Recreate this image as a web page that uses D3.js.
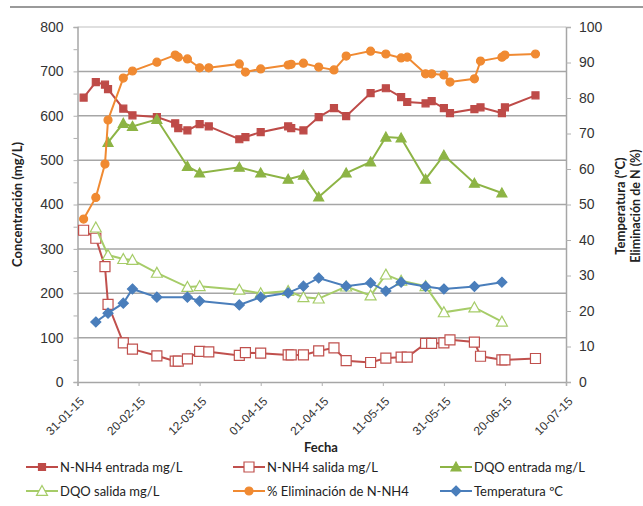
<!DOCTYPE html>
<html><head><meta charset="utf-8">
<script src="https://cdn.jsdelivr.net/npm/d3@7"></script>
<style>
html,body{margin:0;padding:0;background:#fff;}
svg{display:block;font-family:Lato,"Open Sans",sans-serif;}
</style></head>
<body><svg id="c" width="643" height="506"></svg>
<script>
const dates = ["02-02-15","06-02-15","09-02-15","10-02-15","15-02-15","18-02-15","26-02-15","04-03-15","05-03-15","08-03-15","12-03-15","15-03-15","25-03-15","27-03-15","01-04-15","10-04-15","11-04-15","15-04-15","20-04-15","25-04-15","29-04-15","07-05-15","12-05-15","17-05-15","19-05-15","25-05-15","27-05-15","31-05-15","02-06-15","10-06-15","12-06-15","19-06-15","20-06-15","30-06-15"];
const nh4Entrada = [641,676,670,660,616,601,597,583,572,567,581,576,547,552,563,576,572,567,597,617,599,651,662,642,631,628,633,617,606,615,619,606,619,646];
const nh4Salida = [342,324,260,175,88,74,59,47,47,52,69,68,60,66,65,61,61,61,70,77,48,44,54,56,56,87,87,88,95,90,58,50,50,53];
const dqoEntrada = [null,null,null,540,583,576,592,null,null,486,471,null,484,null,471,457,null,466,417,null,471,496,552,550,null,457,null,511,null,448,null,426,null,null];
const dqoSalida = [null,348,null,286,277,275,246,null,null,214,216,null,208,null,200,205,null,191,188,null,215,195,242,228,null,216,null,157,null,168,null,136,null,null];
const eliminacion = [45.9,52,61.4,73.8,85.6,87.6,90.1,92.1,91.5,91.0,88.5,88.5,89.6,87.3,88.2,89.3,89.5,89.8,88.7,87.9,91.8,93.2,92.4,91.3,91.5,86.8,86.8,86.5,84.5,85.4,90.4,91.5,92.1,92.4];
const temperatura = [null,16.9,null,19.4,22.2,26.2,23.9,null,null,23.9,22.8,null,21.7,null,23.9,25.1,null,27.0,29.3,null,27.0,27.9,25.6,28.1,null,26.9,null,26.2,null,26.9,null,28.1,null,null];
const xTickLabels = ["31-01-15","20-02-15","12-03-15","01-04-15","21-04-15","11-05-15","31-05-15","20-06-15","10-07-15"];
const leftTicks = [0,100,200,300,400,500,600,700,800];
const rightTicks = [0,10,20,30,40,50,60,70,80,90,100];
const seriesNames = ["N-NH4 entrada mg/L","N-NH4 salida mg/L","DQO entrada mg/L","DQO salida mg/L","% Eliminación de N-NH4","Temperatura  ºC"];

const parse = d3.timeParse("%d-%m-%y");
const svg = d3.select("#c");
const L = 77.5, R = 566, T = 27, B = 382;
const x = d3.scaleTime().domain([parse(xTickLabels[0]), parse(xTickLabels[xTickLabels.length-1])]).range([L, R]);
const yL = d3.scaleLinear().domain([0, 800]).range([B, T]);
const yR = d3.scaleLinear().domain([0, 100]).range([B, T]);

// outer top border
svg.append("line").attr("x1",10).attr("x2",643).attr("y1",7).attr("y2",7).attr("stroke","#9a9a9a").attr("stroke-width",2);

// gridlines
svg.append("g").selectAll("line").data(leftTicks.filter(d=>d>0)).join("line")
  .attr("x1",L).attr("x2",R).attr("y1",d=>yL(d)).attr("y2",d=>yL(d))
  .attr("stroke", d=> d===800 ? "#d4d4d4" : "#a6a6a6").attr("stroke-width",1.5);

// left axis
const gL = svg.append("g").attr("transform",`translate(${L},0)`)
  .call(d3.axisLeft(yL).tickValues(d3.range(0,801,50)).tickSize(4).tickFormat(d => d%100===0 ? d : ""));
gL.select(".domain").attr("stroke","#a6a6a6").attr("stroke-width",1.5);
gL.selectAll(".tick line").attr("stroke","#b0b0b0");
gL.selectAll("text").attr("font-size",14).attr("fill","#333").attr("x",-14);

// right axis
const gR = svg.append("g").attr("transform",`translate(${R},0)`)
  .call(d3.axisRight(yR).tickValues(rightTicks).tickSize(5));
gR.select(".domain").attr("stroke","#a6a6a6").attr("stroke-width",1.5);
gR.selectAll(".tick line").attr("stroke","#b0b0b0");
gR.selectAll("text").attr("font-size",14).attr("fill","#333").attr("x",13);

// bottom axis
const gB = svg.append("g").attr("transform",`translate(0,${B})`)
  .call(d3.axisBottom(x).tickValues(xTickLabels.map(parse)).tickSize(4).tickFormat(d3.timeFormat("%d-%m-%y")));
gB.select(".domain").attr("stroke","#a6a6a6").attr("stroke-width",1.5);
gB.selectAll(".tick line").attr("stroke","#b0b0b0");
gB.selectAll("text").attr("font-size",12).attr("fill","#333")
  .attr("text-anchor","end").attr("y",0).attr("dy",0)
  .attr("transform","translate(7,20) rotate(-45)");

// axis titles
svg.append("text").attr("transform",`translate(22,${(T+B)/2}) rotate(-90)`).attr("text-anchor","middle")
  .attr("font-size",13).attr("font-weight","bold").attr("fill","#222").text("Concentración (mg/L)");
svg.append("text").attr("transform",`translate(625,206) rotate(-90)`).attr("text-anchor","middle")
  .attr("font-size",13).attr("font-weight","bold").attr("fill","#222").text("Temperatura (ºC)");
svg.append("text").attr("transform",`translate(640,206) rotate(-90)`).attr("text-anchor","middle")
  .attr("font-size",12.5).attr("font-weight","bold").attr("fill","#222").text("Eliminación de N (%)");
svg.append("text").attr("x",321).attr("y",452).attr("text-anchor","middle")
  .attr("font-size",13).attr("font-weight","bold").attr("fill","#222").text("Fecha");

const dd = dates.map(parse);
const colors = ["#BE4B48","#C0504D","#8DB445","#A6CC68","#F08A32","#4A7EBB"];
const markers = [
  {type:"square", size:7, fill:colors[0], stroke:colors[0]},
  {type:"square", size:10, fill:"#fff", stroke:colors[1]},
  {type:"triangle", size:10, fill:colors[2], stroke:colors[2]},
  {type:"triangle", size:11, fill:"#fff", stroke:colors[3]},
  {type:"circle", size:8, fill:colors[4], stroke:colors[4]},
  {type:"diamond", size:10, fill:colors[5], stroke:colors[5]}
];
function markerPath(m){
  const s=m.size/2;
  if(m.type==="square") return `M${-s},${-s}H${s}V${s}H${-s}Z`;
  if(m.type==="triangle") return `M0,${-s}L${s},${s*0.8}L${-s},${s*0.8}Z`;
  if(m.type==="diamond") return `M0,${-s}L${s},0L0,${s}L${-s},0Z`;
  return d3.arc()({innerRadius:0,outerRadius:s,startAngle:0,endAngle:2*Math.PI});
}
const allSeries = [
  {vals:nh4Entrada, y:yL},{vals:nh4Salida, y:yL},{vals:dqoEntrada, y:yL},
  {vals:dqoSalida, y:yL},{vals:eliminacion, y:yR},{vals:temperatura, y:yR}
];
allSeries.forEach((s,i)=>{
  const pts = dd.map((d,j)=>({d, v:s.vals[j]})).filter(p=>p.v!==null);
  const line = d3.line().x(p=>x(p.d)).y(p=>s.y(p.v));
  const g = svg.append("g");
  g.append("path").attr("d",line(pts)).attr("fill","none").attr("stroke",colors[i]).attr("stroke-width",2);
  g.selectAll("path.m").data(pts).join("path").attr("class","m")
    .attr("transform",p=>`translate(${x(p.d)},${s.y(p.v)})`)
    .attr("d",markerPath(markers[i])).attr("fill",markers[i].fill).attr("stroke",markers[i].stroke).attr("stroke-width",1.2);
});

// legend
const legX = [26, 233, 440], legY = [467, 491];
seriesNames.forEach((n,i)=>{
  const lx = legX[i%3], ly = legY[Math.floor(i/3)];
  const g = svg.append("g").attr("transform",`translate(${lx},${ly})`);
  g.append("line").attr("x1",0).attr("x2",32).attr("y1",0).attr("y2",0).attr("stroke",colors[i]).attr("stroke-width",2);
  g.append("path").attr("transform","translate(16,0)").attr("d",markerPath(markers[i]))
    .attr("fill",markers[i].fill).attr("stroke",markers[i].stroke).attr("stroke-width",1.2);
  g.append("text").attr("x",34).attr("y",0).attr("dy","0.35em").attr("font-size",13).attr("fill","#222").text(n);
});
</script></body></html>
